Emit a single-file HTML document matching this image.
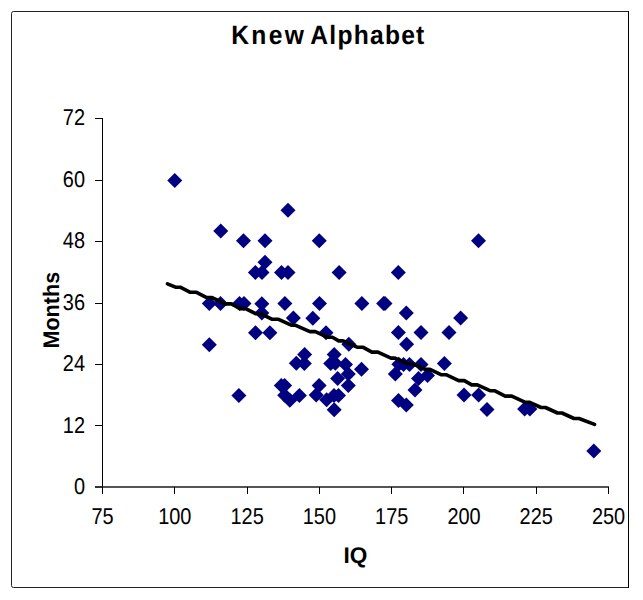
<!DOCTYPE html>
<html><head><meta charset="utf-8"><title>Knew Alphabet</title>
<style>html,body{margin:0;padding:0;background:#fff;width:643px;height:600px;overflow:hidden}svg{display:block}</style>
</head><body>
<svg width="643" height="600" viewBox="0 0 643 600">
<rect x="0" y="0" width="643" height="600" fill="#fff"/>
<path d="M628.5 587.5L13.5 587.5Q11.5 587.5 11.5 585.5L11.5 13.5Q11.5 11.5 13.5 11.5L628.5 11.5Z" fill="none" stroke="#222" stroke-width="1"/>
<path d="M628.5 11L628.5 588" fill="none" stroke="#000" stroke-width="1"/>
<text transform="translate(231.2 43.6) scale(0.93 1)" letter-spacing="2.5" font-family="Liberation Sans, sans-serif" font-weight="bold" font-size="26.5" fill="#000" text-rendering="geometricPrecision">Knew</text>
<text transform="translate(310.3 43.6) scale(0.93 1)" letter-spacing="1.32" font-family="Liberation Sans, sans-serif" font-weight="bold" font-size="26.5" fill="#000" text-rendering="geometricPrecision">Alphabet</text>
<g shape-rendering="crispEdges">
<rect x="95" y="486" width="514" height="2" fill="#555"/>
<rect x="95" y="486" width="7" height="2" fill="#333"/>
<rect x="102" y="118" width="1" height="376" fill="#000"/>
<rect x="95" y="118" width="7" height="1" fill="#000"/>
<rect x="95" y="180" width="7" height="1" fill="#000"/>
<rect x="95" y="241" width="7" height="1" fill="#000"/>
<rect x="95" y="303" width="7" height="1" fill="#000"/>
<rect x="95" y="364" width="7" height="1" fill="#000"/>
<rect x="95" y="425" width="7" height="1" fill="#000"/>
<rect x="102" y="487" width="1" height="7" fill="#000"/>
<rect x="174" y="487" width="1" height="7" fill="#000"/>
<rect x="247" y="487" width="1" height="7" fill="#000"/>
<rect x="319" y="487" width="1" height="7" fill="#000"/>
<rect x="391" y="487" width="1" height="7" fill="#000"/>
<rect x="463" y="487" width="1" height="7" fill="#000"/>
<rect x="536" y="487" width="1" height="7" fill="#000"/>
<rect x="608" y="487" width="1" height="7" fill="#000"/>
</g>
<g font-family="Liberation Sans, sans-serif" font-size="22.9" fill="#000" text-rendering="geometricPrecision">
<text transform="translate(85 125.0) scale(0.87 1)" text-anchor="end">72</text>
<text transform="translate(85 187.0) scale(0.87 1)" text-anchor="end">60</text>
<text transform="translate(85 248.0) scale(0.87 1)" text-anchor="end">48</text>
<text transform="translate(85 310.0) scale(0.87 1)" text-anchor="end">36</text>
<text transform="translate(85 371.0) scale(0.87 1)" text-anchor="end">24</text>
<text transform="translate(85 432.5) scale(0.87 1)" text-anchor="end">12</text>
<text transform="translate(85 494.0) scale(0.87 1)" text-anchor="end">0</text>
<text transform="translate(102.5 524.3) scale(0.87 1)" text-anchor="middle">75</text>
<text transform="translate(174.8 524.3) scale(0.87 1)" text-anchor="middle">100</text>
<text transform="translate(247.1 524.3) scale(0.87 1)" text-anchor="middle">125</text>
<text transform="translate(319.4 524.3) scale(0.87 1)" text-anchor="middle">150</text>
<text transform="translate(391.7 524.3) scale(0.87 1)" text-anchor="middle">175</text>
<text transform="translate(464.0 524.3) scale(0.87 1)" text-anchor="middle">200</text>
<text transform="translate(536.2 524.3) scale(0.87 1)" text-anchor="middle">225</text>
<text transform="translate(608.5 524.3) scale(0.87 1)" text-anchor="middle">250</text>
</g>
<text x="355.4" y="563.3" text-anchor="middle" font-family="Liberation Sans, sans-serif" font-weight="bold" font-size="22.6" fill="#000" text-rendering="geometricPrecision">IQ</text>
<text transform="translate(59.4 310.2) rotate(-90) scale(0.955 1)" x="0" y="0" text-anchor="middle" font-family="Liberation Sans, sans-serif" font-weight="bold" font-size="22.6" fill="#000" text-rendering="geometricPrecision">Months</text>
<g fill="#000080">
<path d="M174.75 173.00L182.25 180.50L174.75 188.00L167.25 180.50Z"/>
<path d="M288.00 202.75L295.50 210.25L288.00 217.75L280.50 210.25Z"/>
<path d="M220.75 223.50L228.25 231.00L220.75 238.50L213.25 231.00Z"/>
<path d="M243.50 233.25L251.00 240.75L243.50 248.25L236.00 240.75Z"/>
<path d="M265.00 233.25L272.50 240.75L265.00 248.25L257.50 240.75Z"/>
<path d="M319.25 233.25L326.75 240.75L319.25 248.25L311.75 240.75Z"/>
<path d="M478.50 233.30L486.00 240.80L478.50 248.30L471.00 240.80Z"/>
<path d="M265.00 254.80L272.50 262.30L265.00 269.80L257.50 262.30Z"/>
<path d="M255.40 265.00L262.90 272.50L255.40 280.00L247.90 272.50Z"/>
<path d="M262.00 265.00L269.50 272.50L262.00 280.00L254.50 272.50Z"/>
<path d="M281.50 265.00L289.00 272.50L281.50 280.00L274.00 272.50Z"/>
<path d="M288.00 265.00L295.50 272.50L288.00 280.00L280.50 272.50Z"/>
<path d="M339.10 264.90L346.60 272.40L339.10 279.90L331.60 272.40Z"/>
<path d="M398.30 264.90L405.80 272.40L398.30 279.90L390.80 272.40Z"/>
<path d="M209.30 295.90L216.80 303.40L209.30 310.90L201.80 303.40Z"/>
<path d="M220.50 296.00L228.00 303.50L220.50 311.00L213.00 303.50Z"/>
<path d="M239.50 296.00L247.00 303.50L239.50 311.00L232.00 303.50Z"/>
<path d="M244.00 296.00L251.50 303.50L244.00 311.00L236.50 303.50Z"/>
<path d="M261.80 296.20L269.30 303.70L261.80 311.20L254.30 303.70Z"/>
<path d="M284.90 295.90L292.40 303.40L284.90 310.90L277.40 303.40Z"/>
<path d="M319.50 295.90L327.00 303.40L319.50 310.90L312.00 303.40Z"/>
<path d="M361.90 296.00L369.40 303.50L361.90 311.00L354.40 303.50Z"/>
<path d="M383.60 296.00L391.10 303.50L383.60 311.00L376.10 303.50Z"/>
<path d="M385.00 296.00L392.50 303.50L385.00 311.00L377.50 303.50Z"/>
<path d="M261.80 305.40L269.30 312.90L261.80 320.40L254.30 312.90Z"/>
<path d="M293.40 310.60L300.90 318.10L293.40 325.60L285.90 318.10Z"/>
<path d="M312.80 310.80L320.30 318.30L312.80 325.80L305.30 318.30Z"/>
<path d="M406.30 305.50L413.80 313.00L406.30 320.50L398.80 313.00Z"/>
<path d="M460.60 310.50L468.10 318.00L460.60 325.50L453.10 318.00Z"/>
<path d="M255.50 325.30L263.00 332.80L255.50 340.30L248.00 332.80Z"/>
<path d="M269.90 325.20L277.40 332.70L269.90 340.20L262.40 332.70Z"/>
<path d="M326.00 325.30L333.50 332.80L326.00 340.30L318.50 332.80Z"/>
<path d="M398.40 324.90L405.90 332.40L398.40 339.90L390.90 332.40Z"/>
<path d="M421.00 325.10L428.50 332.60L421.00 340.10L413.50 332.60Z"/>
<path d="M449.00 325.10L456.50 332.60L449.00 340.10L441.50 332.60Z"/>
<path d="M209.30 337.20L216.80 344.70L209.30 352.20L201.80 344.70Z"/>
<path d="M348.80 336.70L356.30 344.20L348.80 351.70L341.30 344.20Z"/>
<path d="M406.60 336.80L414.10 344.30L406.60 351.80L399.10 344.30Z"/>
<path d="M304.60 346.90L312.10 354.40L304.60 361.90L297.10 354.40Z"/>
<path d="M296.30 355.80L303.80 363.30L296.30 370.80L288.80 363.30Z"/>
<path d="M304.30 356.00L311.80 363.50L304.30 371.00L296.80 363.50Z"/>
<path d="M334.20 347.10L341.70 354.60L334.20 362.10L326.70 354.60Z"/>
<path d="M330.70 356.10L338.20 363.60L330.70 371.10L323.20 363.60Z"/>
<path d="M335.30 355.80L342.80 363.30L335.30 370.80L327.80 363.30Z"/>
<path d="M345.50 357.00L353.00 364.50L345.50 372.00L338.00 364.50Z"/>
<path d="M361.50 361.70L369.00 369.20L361.50 376.70L354.00 369.20Z"/>
<path d="M337.60 371.00L345.10 378.50L337.60 386.00L330.10 378.50Z"/>
<path d="M348.30 366.50L355.80 374.00L348.30 381.50L340.80 374.00Z"/>
<path d="M348.30 378.00L355.80 385.50L348.30 393.00L340.80 385.50Z"/>
<path d="M319.10 378.00L326.60 385.50L319.10 393.00L311.60 385.50Z"/>
<path d="M281.30 378.10L288.80 385.60L281.30 393.10L273.80 385.60Z"/>
<path d="M284.60 378.10L292.10 385.60L284.60 393.10L277.10 385.60Z"/>
<path d="M284.70 387.80L292.20 395.30L284.70 402.80L277.20 395.30Z"/>
<path d="M289.80 392.70L297.30 400.20L289.80 407.70L282.30 400.20Z"/>
<path d="M299.40 388.00L306.90 395.50L299.40 403.00L291.90 395.50Z"/>
<path d="M316.20 387.50L323.70 395.00L316.20 402.50L308.70 395.00Z"/>
<path d="M326.60 392.30L334.10 399.80L326.60 407.30L319.10 399.80Z"/>
<path d="M334.00 388.00L341.50 395.50L334.00 403.00L326.50 395.50Z"/>
<path d="M338.50 388.00L346.00 395.50L338.50 403.00L331.00 395.50Z"/>
<path d="M334.20 402.30L341.70 409.80L334.20 417.30L326.70 409.80Z"/>
<path d="M238.90 388.00L246.40 395.50L238.90 403.00L231.40 395.50Z"/>
<path d="M444.40 356.10L451.90 363.60L444.40 371.10L436.90 363.60Z"/>
<path d="M398.80 356.80L406.30 364.30L398.80 371.80L391.30 364.30Z"/>
<path d="M403.50 357.00L411.00 364.50L403.50 372.00L396.00 364.50Z"/>
<path d="M409.50 357.00L417.00 364.50L409.50 372.00L402.00 364.50Z"/>
<path d="M421.00 357.00L428.50 364.50L421.00 372.00L413.50 364.50Z"/>
<path d="M395.30 366.50L402.80 374.00L395.30 381.50L387.80 374.00Z"/>
<path d="M418.50 371.00L426.00 378.50L418.50 386.00L411.00 378.50Z"/>
<path d="M427.50 368.00L435.00 375.50L427.50 383.00L420.00 375.50Z"/>
<path d="M415.00 382.50L422.50 390.00L415.00 397.50L407.50 390.00Z"/>
<path d="M398.50 393.00L406.00 400.50L398.50 408.00L391.00 400.50Z"/>
<path d="M406.30 397.50L413.80 405.00L406.30 412.50L398.80 405.00Z"/>
<path d="M464.00 387.50L471.50 395.00L464.00 402.50L456.50 395.00Z"/>
<path d="M478.60 387.50L486.10 395.00L478.60 402.50L471.10 395.00Z"/>
<path d="M487.00 402.10L494.50 409.60L487.00 417.10L479.50 409.60Z"/>
<path d="M524.60 401.50L532.10 409.00L524.60 416.50L517.10 409.00Z"/>
<path d="M529.90 401.50L537.40 409.00L529.90 416.50L522.40 409.00Z"/>
<path d="M593.80 443.40L601.30 450.90L593.80 458.40L586.30 450.90Z"/>
</g>
<polyline points="167.5,283.8 175.5,287.2 180.2,287.2 190.3,292.3 196.5,292.3 206.7,297.6 212.1,297.6 225.3,303.9 231.5,303.9 240.0,308.6 245.5,308.6 256.0,313.8 261.0,313.8 271.8,319.2 278.0,319.2 291.2,325.2 295.1,325.2 309.9,331.6 315.3,331.6 327.8,337.3 332.4,337.3 338.7,340.9 343.1,340.9 357.7,347.3 363.2,347.3 371.9,352.1 377.9,352.1 391.0,358.1 395.0,358.1 408.0,363.8 413.0,363.8 425.0,369.4 430.0,369.4 441.0,374.7 446.0,374.7 458.7,380.6 464.3,380.6 471.7,384.9 477.3,384.9 490.0,390.7 494.4,390.7 505.2,396.1 511.8,396.1 524.8,402.2 529.2,402.2 541.0,407.5 545.5,407.5 557.5,413.0 562.0,413.0 574.0,418.5 579.0,418.5 594.5,424.4" fill="none" stroke="#000" stroke-width="3.6" stroke-linecap="round" stroke-linejoin="round"/>
</svg>
</body></html>
